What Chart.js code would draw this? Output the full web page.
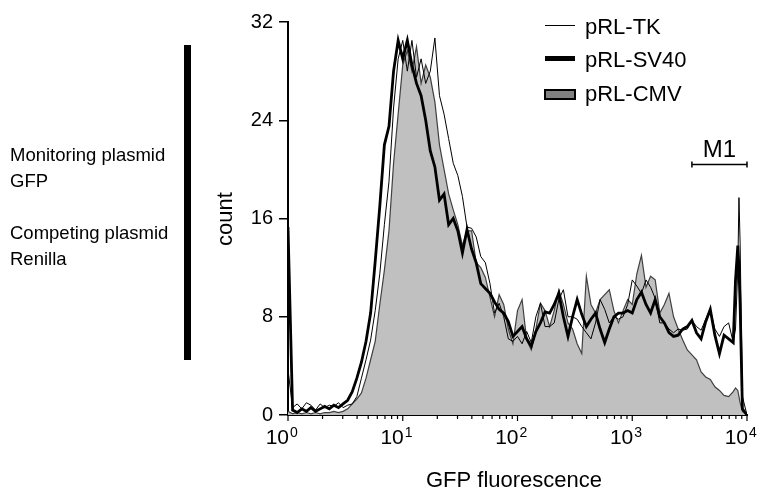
<!DOCTYPE html>
<html>
<head>
<meta charset="utf-8">
<script src="https://cdn.jsdelivr.net/npm/chart.js@4"></script>
<style>
  html, body { margin: 0; padding: 0; background: #fff; }
</style>
</head>
<body>
<canvas id="facsChart" width="763" height="489"></canvas>
<script>
// GFP fluorescence, in decades (log10), shared by all three histograms
const logFL = [0.00,0.04,0.08,0.12,0.16,0.20,0.24,0.28,0.32,0.36,0.40,0.44,0.48,0.52,0.56,0.60,0.64,0.68,0.72,0.76,
  0.80,0.84,0.88,0.92,0.96,1.00,1.04,1.08,1.12,1.16,1.20,1.24,1.28,1.32,1.36,1.40,1.44,1.48,1.52,1.56,
  1.60,1.64,1.68,1.72,1.76,1.80,1.84,1.88,1.92,1.96,2.00,2.04,2.08,2.12,2.16,2.20,2.24,2.28,2.32,2.36,
  2.40,2.44,2.48,2.52,2.56,2.60,2.64,2.68,2.72,2.76,2.80,2.84,2.88,2.92,2.96,3.00,3.04,3.08,3.12,3.16,
  3.20,3.24,3.28,3.32,3.36,3.40,3.44,3.48,3.52,3.56,3.60,3.64,3.68,3.72,3.76,3.80,3.84,3.88,3.90,3.92,
  3.93,3.94,3.96,4.00];

const countTK = [3.7,0.6,0.9,0.5,1.0,0.8,0.4,0.9,0.6,0.8,0.7,1.0,0.6,0.8,0.9,1.5,3.0,4.5,6.1,8.5,
  11.5,15.5,19.0,25.0,29.0,30.5,28.0,30.5,27.5,29.0,27.0,28.0,30.7,26.0,24.5,22.5,20.5,19.5,17.8,15.3,
  15.2,14.5,12.9,12.4,10.7,8.3,9.1,8.0,6.2,6.0,6.4,5.8,6.8,5.9,8.0,9.1,7.2,7.2,7.5,9.4,
  10.2,8.0,8.0,7.8,7.2,6.7,6.2,7.5,9.4,8.6,7.5,8.0,7.8,8.0,9.0,11.0,10.5,9.9,11.0,10.4,
  9.5,7.5,7.5,7.0,6.7,7.0,6.9,7.0,7.7,7.2,6.9,7.8,8.6,7.0,6.4,7.2,7.5,5.9,7.0,12.0,
  17.7,14.0,1.5,0];

const countSV40 = [15.3,0.4,0.2,0.5,0.3,0.6,0.3,0.5,0.7,0.5,0.8,0.6,0.9,1.2,1.9,3.0,4.3,6.0,8.3,12.5,
  17.0,22.0,23.5,28.0,30.5,29.0,30.5,28.5,27.0,26.0,24.0,21.5,20.2,17.5,18.0,15.5,16.0,15.0,13.2,15.1,
  13.5,12.4,10.7,10.3,9.9,9.2,8.6,8.3,7.6,6.4,6.8,7.2,6.2,5.6,6.8,7.5,8.4,8.3,9.0,9.9,
  8.0,6.4,8.0,9.4,8.2,7.2,7.8,8.3,7.0,5.9,7.0,8.0,8.3,8.3,8.5,8.3,9.4,10.0,9.0,8.3,
  9.4,8.0,7.5,6.7,6.4,6.5,7.0,7.2,7.7,6.7,6.2,7.6,8.6,6.5,5.0,6.5,6.2,5.9,11.0,13.8,
  12.0,9.0,0.5,0];

const countCMV = [0.3,0.1,0.2,0.1,0.2,0.1,0.2,0.1,0.2,0.2,0.3,0.2,0.3,0.5,0.9,1.3,1.8,3.0,4.5,6.0,
  9.0,11.8,15.0,20.5,24.5,28.5,29.7,28.0,30.0,27.0,28.5,27.5,25.5,22.0,20.0,18.0,16.7,15.5,13.8,15.0,
  15.0,12.4,12.0,11.2,9.6,8.0,9.8,9.0,7.0,5.8,8.5,9.4,6.1,5.3,7.0,9.1,8.5,7.2,8.5,10.2,
  9.0,7.5,7.0,5.8,5.0,11.3,9.0,8.3,9.4,9.8,10.2,8.5,7.5,8.5,9.4,9.0,11.5,13.0,10.4,11.3,
  11.0,8.3,9.0,9.9,8.0,7.0,6.1,5.3,4.9,4.5,3.5,3.1,2.9,2.3,2.0,1.6,1.5,1.9,2.2,2.0,
  1.5,1.0,0.3,0];

const seriesNames = ['pRL-TK', 'pRL-SV40', 'pRL-CMV'];
const yTicks = [0, 8, 16, 24, 32];
const decades = [0, 1, 2, 3, 4];
const m1Range = [3.52, 4.0];   // marker gate, decades
const m1Level = 20.4;          // count level the gate bar sits at
const sideNotes = ['Monitoring plasmid', 'GFP', 'Competing plasmid', 'Renilla'];

const FONT = '"Liberation Sans", Arial, Helvetica, sans-serif';
const toPoints = ys => logFL.map((x, i) => ({ x: x, y: ys[i] }));

// extra drawing: log ticks, labels, legend, gate and side notes
const decorations = {
  id: 'decorations',
  afterDraw(chart) {
    const ctx = chart.ctx;
    const xs = chart.scales.x;
    const ys = chart.scales.y;
    const base = ys.getPixelForValue(0);
    ctx.save();
    ctx.strokeStyle = '#000';
    ctx.fillStyle = '#000';
    ctx.textBaseline = 'alphabetic';

    // log x ticks and 10^n labels
    ctx.lineWidth = 1.2;
    decades.forEach(d => {
      for (let k = 1; k <= 9; k++) {
        if (d === 4 && k > 1) break;
        const px = xs.getPixelForValue(d + Math.log10(k));
        ctx.beginPath();
        ctx.moveTo(px, base);
        ctx.lineTo(px, base + (k === 1 ? 6 : 4));
        ctx.stroke();
      }
      const px = xs.getPixelForValue(d);
      ctx.font = '21px ' + FONT;
      ctx.textAlign = 'right';
      ctx.fillText('10', px + 1, base + 29);
      ctx.font = '14px ' + FONT;
      ctx.textAlign = 'left';
      ctx.fillText(String(d), px + 2, base + 22);
    });

    // axis titles
    ctx.font = '22px ' + FONT;
    ctx.textAlign = 'center';
    ctx.fillText('GFP fluorescence', 514, 487);
    ctx.save();
    ctx.translate(226, 219);
    ctx.rotate(-Math.PI / 2);
    ctx.textBaseline = 'middle';
    ctx.fillText('count', 0, 0);
    ctx.restore();

    // legend
    ctx.font = '22px ' + FONT;
    ctx.textAlign = 'left';
    ctx.lineWidth = 1;
    ctx.beginPath(); ctx.moveTo(545, 25.5); ctx.lineTo(575, 25.5); ctx.stroke();
    ctx.fillText(seriesNames[0], 585, 34);
    ctx.lineWidth = 5;
    ctx.beginPath(); ctx.moveTo(545, 58.5); ctx.lineTo(575, 58.5); ctx.stroke();
    ctx.fillText(seriesNames[1], 585, 67);
    ctx.fillStyle = '#808080';
    ctx.fillRect(545, 90, 30, 9);
    ctx.lineWidth = 2;
    ctx.strokeRect(545, 90, 30, 9);
    ctx.fillStyle = '#000';
    ctx.fillText(seriesNames[2], 585, 101);

    // M1 gate
    const gx0 = xs.getPixelForValue(m1Range[0]);
    const gx1 = xs.getPixelForValue(m1Range[1]);
    const gy = Math.round(ys.getPixelForValue(m1Level)) + 0.5;
    ctx.lineWidth = 1.5;
    ctx.beginPath();
    ctx.moveTo(gx0, gy); ctx.lineTo(gx1, gy);
    ctx.moveTo(gx0, gy - 3); ctx.lineTo(gx0, gy + 3);
    ctx.moveTo(gx1, gy - 3); ctx.lineTo(gx1, gy + 3);
    ctx.stroke();
    ctx.font = '24px ' + FONT;
    ctx.textAlign = 'center';
    ctx.fillText('M1', (gx0 + gx1) / 2, gy - 8);

    // side notes and bar
    ctx.font = '18.5px ' + FONT;
    ctx.textAlign = 'left';
    ctx.fillText(sideNotes[0], 10, 161);
    ctx.fillText(sideNotes[1], 10, 187);
    ctx.fillText(sideNotes[2], 10, 239);
    ctx.fillText(sideNotes[3], 10, 265);
    ctx.fillRect(184, 45, 7, 315);

    ctx.restore();
  }
};

const ctx = document.getElementById('facsChart').getContext('2d');

new Chart(ctx, {
  type: 'line',
  data: {
    datasets: [{
      label: seriesNames[0],
      data: toPoints(countTK),
      borderColor: '#000',
      borderWidth: 1,
      fill: false,
      order: 1,
    }, {
      label: seriesNames[1],
      data: toPoints(countSV40),
      borderColor: '#000',
      borderWidth: 2.8,
      fill: false,
      order: 2,
    }, {
      label: seriesNames[2],
      data: toPoints(countCMV),
      borderColor: '#404040',
      backgroundColor: '#c0c0c0',
      borderWidth: 1.2,
      fill: 'origin',
      order: 3,
    }]
  },
  options: {
    responsive: false,
    animation: false,
    elements: { point: { radius: 0 }, line: { tension: 0 } },
    layout: { padding: { top: 22, right: 16, bottom: 0, left: 0 } },
    scales: {
      x: {
        type: 'linear',
        min: 0,
        max: 4,
        afterFit: s => { s.height = 74; },
        ticks: { display: false },
        grid: { display: false },
        border: { display: true, color: '#000', width: 2 },
      },
      y: {
        min: 0,
        max: 32,
        afterBuildTicks: s => { s.ticks = yTicks.map(v => ({ value: v })); },
        afterFit: s => { s.width = 288; },
        ticks: { color: '#000', font: { family: FONT, size: 20 }, padding: 6 },
        grid: { drawOnChartArea: false, drawTicks: true, tickLength: 9, color: '#000', lineWidth: 1.5 },
        border: { display: true, color: '#000', width: 2 },
      }
    },
    plugins: {
      legend: { display: false },
      tooltip: { enabled: false },
    }
  },
  plugins: [decorations]
});
</script>
</body>
</html>
